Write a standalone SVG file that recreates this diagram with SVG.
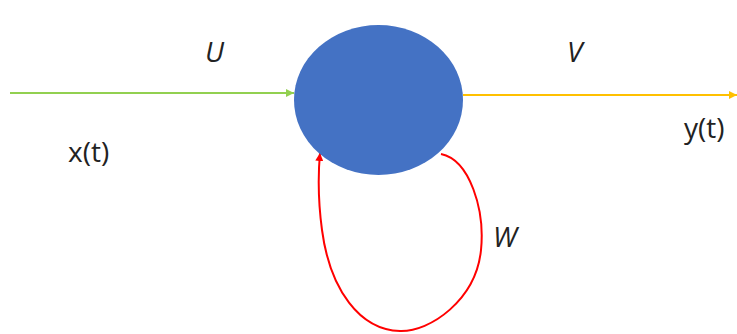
<svg xmlns="http://www.w3.org/2000/svg" width="737" height="334" viewBox="0 0 737 334">
<style>
text{font-family:"Open Sans","Liberation Sans",sans-serif;font-size:28px;fill:#222}
.it{font-style:italic}
</style>
<defs>
<marker id="ag" viewBox="0 0 10 10" refX="10" refY="5" markerWidth="4" markerHeight="4" orient="auto"><path d="M0,0L10,5L0,10z" fill="#92d050"/></marker>
<marker id="ay" viewBox="0 0 10 10" refX="10" refY="5" markerWidth="4" markerHeight="4" orient="auto"><path d="M0,0L10,5L0,10z" fill="#ffc000"/></marker>
<marker id="ar" viewBox="0 0 10 10" refX="10" refY="5" markerWidth="4" markerHeight="4" orient="auto"><path d="M0,0L10,5L0,10z" fill="#ff0000"/></marker>
</defs>
<g id="connectors" fill="none" stroke-width="2">
<line x1="10" y1="93" x2="294" y2="93" stroke="#92d050" marker-end="url(#ag)"/>
<line x1="463" y1="95" x2="737" y2="95" stroke="#ffc000" marker-end="url(#ay)"/>
<path d="M441,154 C470,160 485,210 481,250 C476,300 430,332 400,331 C360,330 330,290 322,230 C318,200 318,175 320,153" stroke="#ff0000" marker-end="url(#ar)"/>
</g>
<g id="node"><ellipse cx="378.5" cy="100" rx="84.5" ry="75" fill="#4472c4"/></g>
<g id="labels">
<text class="it" x="205" y="62">U</text>
<text class="it" x="567" y="62">V</text>
<text class="it" x="493" y="247">W</text>
<text x="68" y="162">x(t)</text>
<text x="684" y="138">y(t)</text>
</g>
</svg>
